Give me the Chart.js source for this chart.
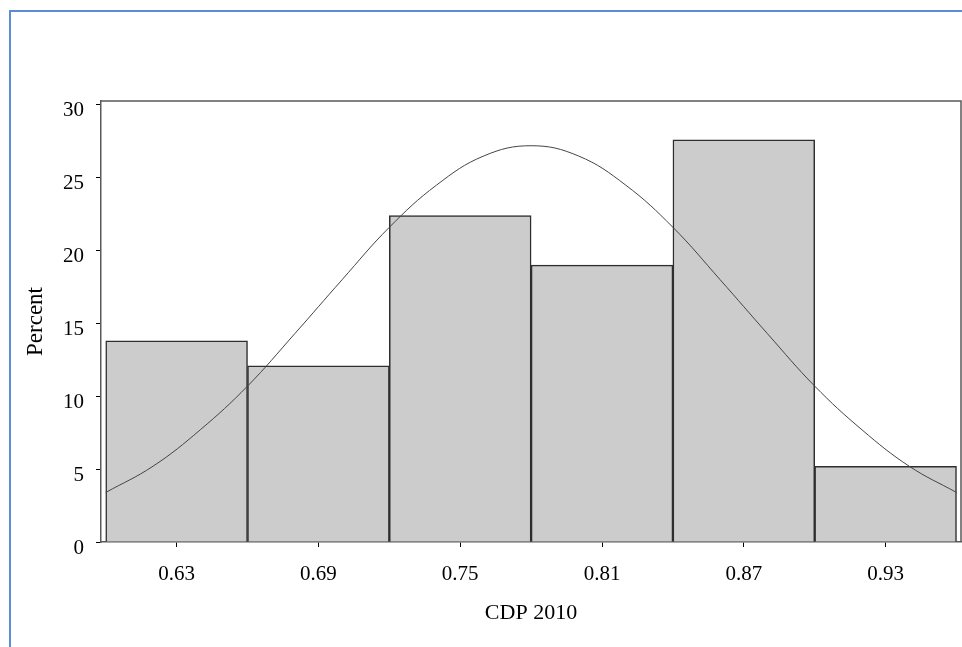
<!DOCTYPE html>
<html>
<head>
<meta charset="utf-8">
<script src="https://cdn.jsdelivr.net/npm/chart.js@4/dist/chart.umd.min.js"></script>
<style>
  html, body { margin: 0; padding: 0; background: #ffffff; overflow: hidden; }
  #wrap { position: relative; width: 962px; height: 647px; }
  #frame {
    position: absolute; left: 9px; top: 10px; width: 1200px; height: 1200px;
    border-left: 2px solid #5b8dd4; border-top: 2px solid #5b8dd4;
  }
  canvas { position: absolute; left: 0; top: 0; }
</style>
</head>
<body>
<div id="wrap">
  <div id="frame"></div>
  <canvas id="chart" width="962" height="647"></canvas>
</div>
<script>
// Histogram bins (centres) and percentage of observations in each bin
const binCentres = [0.63, 0.69, 0.75, 0.81, 0.87, 0.93];
const binPercent = [13.8, 12.1, 22.4, 19.0, 27.6, 5.2];

// Fitted normal curve, sampled along the x axis
const curveX = [0.60, 0.62, 0.64, 0.66, 0.68, 0.70, 0.72, 0.74, 0.76, 0.78,
                0.80, 0.82, 0.84, 0.86, 0.88, 0.90, 0.92, 0.94, 0.96];
const curveY = [3.4, 5.2, 7.7, 10.7, 14.3, 18.0, 21.6, 24.5, 26.5, 27.2,
                26.5, 24.5, 21.6, 18.0, 14.3, 10.7, 7.7, 5.2, 3.4];

// Axis tick labels
const xTickLabels = ['0.63', '0.69', '0.75', '0.81', '0.87', '0.93'];
const yTickLabels = ['0', '5', '10', '15', '20', '25', '30'];

const FONT = "'Liberation Serif', 'Times New Roman', serif";
const AXIS_GREY = '#5a5a5a';

// Closes the plot box on its top and right sides
const boxPlugin = {
  id: 'plotBox',
  afterDatasetsDraw(chart) {
    const { ctx, chartArea: a } = chart;
    ctx.save();
    ctx.strokeStyle = AXIS_GREY;
    ctx.lineWidth = 1.5;
    ctx.beginPath();
    ctx.moveTo(a.left, a.top);
    ctx.lineTo(a.right, a.top);
    ctx.lineTo(a.right, a.bottom);
    ctx.stroke();
    ctx.restore();
  }
};

new Chart(document.getElementById('chart'), {
  type: 'bar',
  data: {
    datasets: [
      {
        type: 'line',
        data: curveX.map((x, i) => ({ x, y: curveY[i] })),
        borderColor: '#444444',
        borderWidth: 1,
        pointRadius: 0,
        fill: false,
        tension: 0.4,
        order: 0
      },
      {
        type: 'bar',
        data: binCentres.map((x, i) => ({ x, y: binPercent[i] })),
        backgroundColor: '#cccccc',
        borderColor: '#2e2e2e',
        borderWidth: 1.5,
        barPercentage: 1,
        categoryPercentage: 1,
        order: 1
      }
    ]
  },
  plugins: [boxPlugin],
  options: {
    responsive: false,
    animation: false,
    devicePixelRatio: 1,
    layout: { padding: { top: 101, right: 1, left: 0, bottom: 0 } },
    plugins: { legend: { display: false }, tooltip: { enabled: false } },
    scales: {
      x: {
        type: 'linear',
        offset: false,
        min: 0.598,
        max: 0.9619,
        afterFit(scale) { scale.height = 105; },
        afterBuildTicks(scale) {
          scale.ticks = binCentres.map(v => ({ value: v }));
        },
        ticks: {
          callback: (v, i) => xTickLabels[i],
          color: '#000000',
          font: { family: FONT, size: 21 },
          padding: 15,
          maxRotation: 0,
          autoSkip: false
        },
        grid: { offset: false, drawOnChartArea: false, drawTicks: true, tickLength: 5, tickColor: '#000000' },
        border: { color: AXIS_GREY, width: 1.5 },
        title: {
          display: true,
          text: 'CDP 2010',
          color: '#000000',
          font: { family: FONT, size: 22 },
          padding: { top: 0, bottom: 21 }
        }
      },
      y: {
        min: 0,
        max: 30.27,
        afterFit(scale) { scale.width = 101; },
        ticks: {
          stepSize: 5,
          includeBounds: false,
          callback: (v) => yTickLabels[Math.round(v / 5)],
          color: '#000000',
          font: { family: FONT, size: 21 },
          padding: 12,
          labelOffset: 6
        },
        grid: { drawOnChartArea: false, drawTicks: true, tickLength: 5, tickColor: '#000000' },
        border: { color: AXIS_GREY, width: 1.5 },
        title: {
          display: true,
          text: 'Percent',
          color: '#000000',
          font: { family: FONT, size: 23 },
          padding: { top: 22, bottom: 0 }
        }
      }
    }
  }
});
</script>
</body>
</html>
